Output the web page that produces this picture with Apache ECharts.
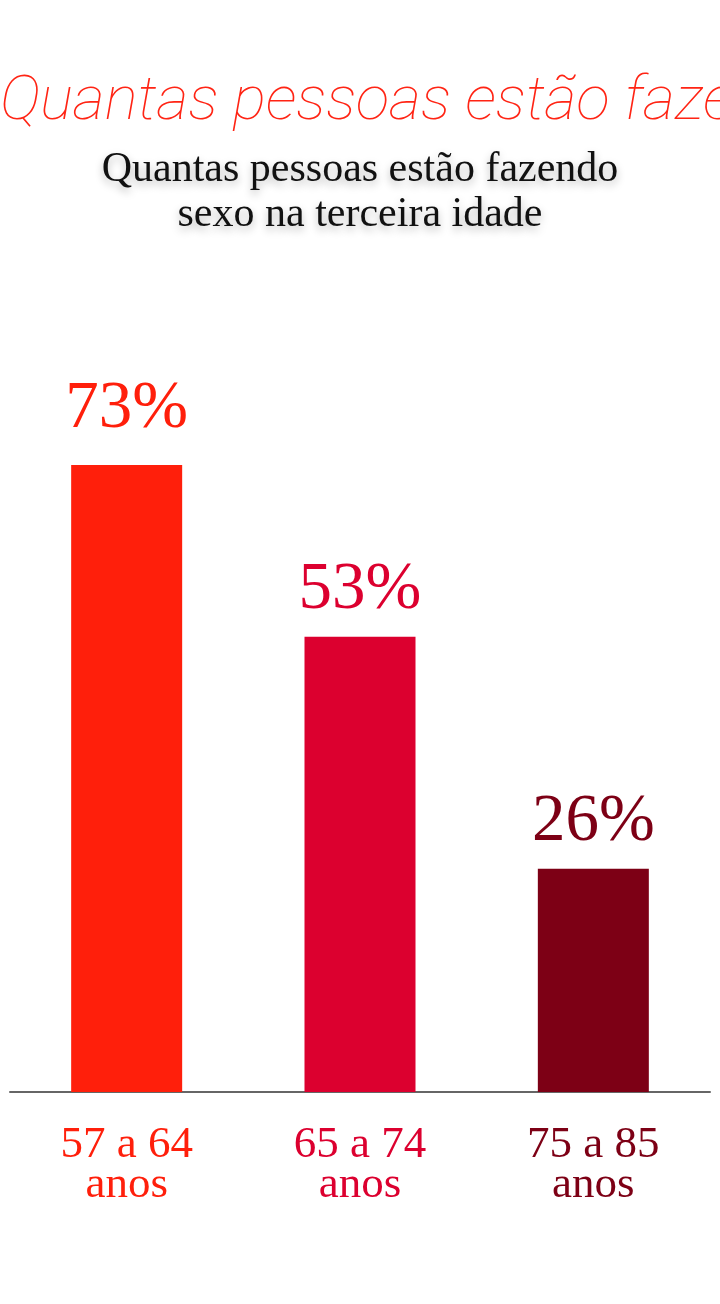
<!DOCTYPE html>
<html>
<head>
<meta charset="utf-8">
<script src="https://cdn.jsdelivr.net/npm/echarts@6/dist/echarts.min.js"></script>
<style>
  html, body { margin: 0; padding: 0; background: #fff; }
  #chart { width: 720px; height: 1304px; }
</style>
</head>
<body>
<div id="chart"></div>
<script>
// dados do gráfico
const faixas = ['57 a 64', '65 a 74', '75 a 85'];
const percentuais = [73, 53, 26];
const cores = ['#FF1F0B', '#DC002F', '#7D0015'];

const titulo = 'Quantas pessoas estão fazendo\nsexo na terceira idade';
const manuscrito = 'Quantas pessoas estão fazendo';

const chart = echarts.init(document.getElementById('chart'));

// um estilo rich por faixa, para colorir cada rótulo do eixo
const richEixo = {};
cores.forEach((c, i) => {
  richEixo['c' + i] = {
    color: c,
    fontFamily: 'Liberation Serif',
    fontSize: 45,
    lineHeight: 40
  };
});

chart.setOption({
  backgroundColor: '#fff',
  animation: false,
  title: {
    text: titulo,
    left: 'center',
    top: 142,
    textStyle: {
      fontFamily: 'Liberation Serif',
      fontWeight: 'normal',
      fontSize: 42,
      lineHeight: 45,
      color: '#111',
      textShadowColor: 'rgba(0,0,0,0.28)',
      textShadowBlur: 8,
      textShadowOffsetY: 4
    }
  },
  graphic: [{
    type: 'text',
    left: 0,
    top: 72,
    z: -1,
    style: {
      text: manuscrito,
      font: 'italic 100 62px Roboto',
      fill: '#FF2414'
    }
  }],
  grid: {
    left: 10,
    right: 10,
    top: 233,
    bottom: 212
  },
  xAxis: {
    type: 'category',
    data: faixas,
    axisTick: { show: false },
    axisLine: {
      lineStyle: { color: '#666', width: 2 }
    },
    axisLabel: {
      margin: 33,
      formatter: (v, i) => `{c${i}|${v}}\n{c${i}|anos}`,
      rich: richEixo
    }
  },
  yAxis: {
    type: 'value',
    min: 0,
    max: 100,
    show: false,
    splitLine: { show: false }
  },
  series: [{
    type: 'bar',
    barWidth: 111,
    data: percentuais.map((v, i) => ({
      value: v,
      itemStyle: { color: cores[i] },
      // a primeira barra tem o topo mais irregular, rótulo um pouco mais alto
      label: { color: cores[i], distance: i === 0 ? 24 : 14 }
    })),
    label: {
      show: true,
      position: 'top',
      formatter: '{c}%',
      fontFamily: 'Liberation Serif',
      fontSize: 67,
      lineHeight: 64
    }
  }]
});
</script>
</body>
</html>
